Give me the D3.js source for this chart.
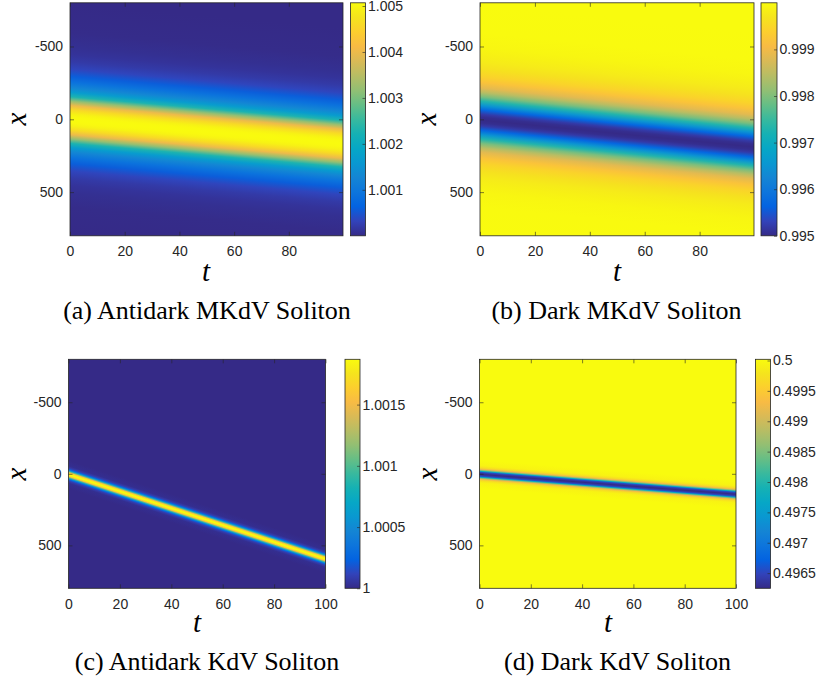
<!DOCTYPE html>
<html>
<head>
<meta charset="utf-8">
<script src="https://cdn.jsdelivr.net/npm/d3@7"></script>
<style>
  html, body { margin: 0; padding: 0; background: #fff; }
  svg { display: block; }
  .tick text { font-family: "Liberation Sans", Arial, Helvetica, sans-serif; font-size: 14px; fill: #262626; }
  .tick line { stroke: #262626; stroke-width: 0.6; }
  .axlabel { font-family: "Liberation Serif", "Times New Roman", serif; font-style: italic; font-size: 29px; fill: #000; }
  .caption { font-family: "Liberation Serif", "Times New Roman", serif; font-size: 26px; fill: #000; }
</style>
</head>
<body>
<svg id="fig" width="816" height="683"></svg>
<script>
// parula colormap (MATLAB), low -> high
const PARULA = ["#352a87", "#3243ba", "#0363e1", "#0d75dc", "#1485d4", "#0998d1", "#06a7c6", "#15b1b4",
                "#38b99e", "#65be86", "#92bf73", "#b7bd64", "#d9ba56", "#f8bb44", "#fcce2e", "#f5e41d", "#f9fb0e"];

// axes
const xDomain = [-800, 800];
const xTicks = [-500, 0, 500];
const tDomainMKdV = [0, 99.8];
const tDomainKdV = [0, 100];
const tTicksMKdV = [0, 20, 40, 60, 80];
const tTicksKdV = [0, 20, 40, 60, 80, 100];

// profile across the soliton (x offset from centre)
const mkdvOffsets = [-800, -600, -500, -450, -400, -350, -300, -260, -220, -190, -160, -130, -100, -70, -40, -20, 0,
                     20, 40, 70, 100, 130, 160, 190, 220, 260, 300, 350, 400, 450, 500, 600, 800];
const antidarkMKdVValues = [1.00000, 1.00002, 1.00007, 1.00012, 1.00020, 1.00034, 1.00058, 1.00089, 1.00129, 1.00167, 1.00228, 1.00319, 1.00401, 1.00461, 1.00494, 1.00504, 1.00507,
                            1.00504, 1.00494, 1.00461, 1.00401, 1.00319, 1.00228, 1.00167, 1.00129, 1.00089, 1.00058, 1.00034, 1.00020, 1.00012, 1.00007, 1.00002, 1.00000];
const darkMKdVValues = [1.00000, 0.99998, 0.99993, 0.99987, 0.99978, 0.99965, 0.99945, 0.99920, 0.99885, 0.99845, 0.99795, 0.99730, 0.99650, 0.99570, 0.99520, 0.99505, 0.99500,
                        0.99505, 0.99520, 0.99570, 0.99650, 0.99730, 0.99795, 0.99845, 0.99885, 0.99920, 0.99945, 0.99965, 0.99978, 0.99987, 0.99993, 0.99998, 1.00000];

const kdvOffsets = [-100, -60, -45, -35, -28, -21, -14, -7, 0, 7, 14, 21, 28, 35, 45, 60, 100];
const antidarkKdVValues = [1.00000, 1.00002, 1.00009, 1.00026, 1.00056, 1.00103, 1.00153, 1.00180, 1.00187,
                           1.00180, 1.00153, 1.00103, 1.00056, 1.00026, 1.00009, 1.00002, 1.00000];
const darkKdVValues = [0.50002, 0.49994, 0.49972, 0.49927, 0.49859, 0.49768, 0.49657, 0.49636, 0.49625,
                       0.49636, 0.49657, 0.49768, 0.49859, 0.49927, 0.49972, 0.49994, 0.50002];

// soliton centre x at first and last t
const antidarkMKdVCenter = [5, 168];
const darkMKdVCenter = [5, 190];
const antidarkKdVCenter = [5, 595];
const darkKdVCenter = [3, 143];

// colour limits
const antidarkMKdVRange = [1.0, 1.00507];
const darkMKdVRange = [0.995, 1.0];
const antidarkKdVRange = [1.0, 1.00187];
const darkKdVRange = [0.49625, 0.50002];

// colorbar ticks
const cbTicksA = [1.001, 1.002, 1.003, 1.004, 1.005];
const cbTicksB = [0.995, 0.996, 0.997, 0.998, 0.999];
const cbTicksC = [1, 1.0005, 1.001, 1.0015];
const cbTicksD = [0.4965, 0.497, 0.4975, 0.498, 0.4985, 0.499, 0.4995, 0.5];

const captions = ["(a) Antidark MKdV Soliton", "(b) Dark MKdV Soliton", "(c) Antidark KdV Soliton", "(d) Dark KdV Soliton"];

const svg = d3.select("#fig");
const defs = svg.append("defs");
const AX = "#262626";

// one panel = map + colorbar + labels
const panels = [
  { px: 70, py: 2.8, pw: 273, ph: 233, cbx: 350.5, cbw: 15, tDomain: tDomainMKdV, tTicks: tTicksMKdV,
    offsets: mkdvOffsets, values: antidarkMKdVValues, center: antidarkMKdVCenter, range: antidarkMKdVRange, cbTicks: cbTicksA,
    capX: 207, capY: 319, tX: 206, tY: 281, xX: 19, xY: 119 },
  { px: 480, py: 2.8, pw: 274, ph: 233, cbx: 761, cbw: 16, tDomain: tDomainMKdV, tTicks: tTicksMKdV,
    offsets: mkdvOffsets, values: darkMKdVValues, center: darkMKdVCenter, range: darkMKdVRange, cbTicks: cbTicksB,
    capX: 616.5, capY: 319, tX: 617, tY: 281, xX: 429, xY: 119 },
  { px: 68.5, py: 359.3, pw: 257, ph: 229, cbx: 345, cbw: 15, tDomain: tDomainKdV, tTicks: tTicksKdV,
    offsets: kdvOffsets, values: antidarkKdVValues, center: antidarkKdVCenter, range: antidarkKdVRange, cbTicks: cbTicksC,
    capX: 207, capY: 670, tX: 197, tY: 632, xX: 19, xY: 474 },
  { px: 479.5, py: 359.3, pw: 256.5, ph: 229, cbx: 755.5, cbw: 15, tDomain: tDomainKdV, tTicks: tTicksKdV,
    offsets: kdvOffsets, values: darkKdVValues, center: darkKdVCenter, range: darkKdVRange, cbTicks: cbTicksD,
    capX: 617.5, capY: 670, tX: 608, tY: 632, xX: 430, xY: 474 }
];

const fmt = v => String(+v.toFixed(6));

// colorbar gradient shared by all panels
const cbGrad = defs.append("linearGradient").attr("id", "cbgrad")
  .attr("x1", 0).attr("y1", 1).attr("x2", 0).attr("y2", 0);
PARULA.forEach((c, i) => cbGrad.append("stop").attr("offset", i / (PARULA.length - 1)).attr("stop-color", c));

panels.forEach((p, i) => {
  const g = svg.append("g");
  const tScale = d3.scaleLinear(p.tDomain, [p.px, p.px + p.pw]);
  const xScale = d3.scaleLinear(xDomain, [p.py, p.py + p.ph]);
  const color = d3.scaleSequential(p.range, d3.piecewise(d3.interpolateRgb, PARULA));

  // field: vertical profile, sheared along the soliton path
  const X0 = tScale(p.tDomain[0]);
  const c0 = p.center[0], c1 = p.center[1];
  const k = (xScale(c1) - xScale(c0)) / (tScale(p.tDomain[1]) - X0);
  const yA = xScale(c0 + p.offsets[0]);
  const yB = xScale(c0 + p.offsets[p.offsets.length - 1]);
  const grad = defs.append("linearGradient").attr("id", "field" + i)
    .attr("gradientUnits", "userSpaceOnUse")
    .attr("x1", X0).attr("x2", X0).attr("y1", yA).attr("y2", yB)
    .attr("gradientTransform", `matrix(1,${k},0,1,0,${-k * X0})`);
  p.offsets.forEach((d, j) => {
    grad.append("stop")
      .attr("offset", (xScale(c0 + d) - yA) / (yB - yA))
      .attr("stop-color", color(p.values[j]));
  });

  g.append("rect")
    .attr("x", p.px).attr("y", p.py).attr("width", p.pw).attr("height", p.ph)
    .attr("fill", `url(#field${i})`);

  // axes, ticks inward on all four sides
  const noLab = () => "";
  g.append("g").attr("transform", `translate(${p.px},0)`)
    .call(d3.axisLeft(xScale).tickValues(xTicks).tickFormat(d => String(d))
      .tickSizeInner(-4).tickSizeOuter(0).tickPadding(7));
  g.append("g").attr("transform", `translate(${p.px + p.pw},0)`)
    .call(d3.axisRight(xScale).tickValues(xTicks).tickSizeInner(-4).tickSizeOuter(0).tickFormat(noLab));
  g.append("g").attr("transform", `translate(0,${p.py + p.ph})`)
    .call(d3.axisBottom(tScale).tickValues(p.tTicks).tickSizeInner(-4).tickSizeOuter(0).tickPadding(10.5));
  g.append("g").attr("transform", `translate(0,${p.py})`)
    .call(d3.axisTop(tScale).tickValues(p.tTicks).tickSizeInner(-4).tickSizeOuter(0).tickFormat(noLab));
  g.selectAll(".domain").remove();

  g.append("rect")
    .attr("x", p.px).attr("y", p.py).attr("width", p.pw).attr("height", p.ph)
    .attr("fill", "none").attr("stroke", AX).attr("stroke-width", 0.8);

  // colorbar
  const cbScale = d3.scaleLinear(p.range, [p.py + p.ph, p.py]);
  g.append("rect")
    .attr("x", p.cbx).attr("y", p.py).attr("width", p.cbw).attr("height", p.ph)
    .attr("fill", "url(#cbgrad)");
  const cbAxis = g.append("g").attr("transform", `translate(${p.cbx + p.cbw},0)`)
    .call(d3.axisRight(cbScale).tickValues(p.cbTicks).tickFormat(fmt).tickSizeInner(-3).tickSizeOuter(0).tickPadding(2.5));
  cbAxis.select(".domain").remove();
  g.append("rect")
    .attr("x", p.cbx).attr("y", p.py).attr("width", p.cbw).attr("height", p.ph)
    .attr("fill", "none").attr("stroke", AX).attr("stroke-width", 0.8);

  // labels
  g.append("text").attr("class", "axlabel")
    .attr("x", p.tX).attr("y", p.tY).attr("text-anchor", "middle").text("t");
  g.append("text").attr("class", "axlabel")
    .attr("transform", `translate(${p.xX},${p.xY}) rotate(-90)`)
    .attr("text-anchor", "middle").attr("dy", "0.25em").text("x");
  g.append("text").attr("class", "caption")
    .attr("x", p.capX).attr("y", p.capY).attr("text-anchor", "middle").text(captions[i]);
});
</script>
</body>
</html>
